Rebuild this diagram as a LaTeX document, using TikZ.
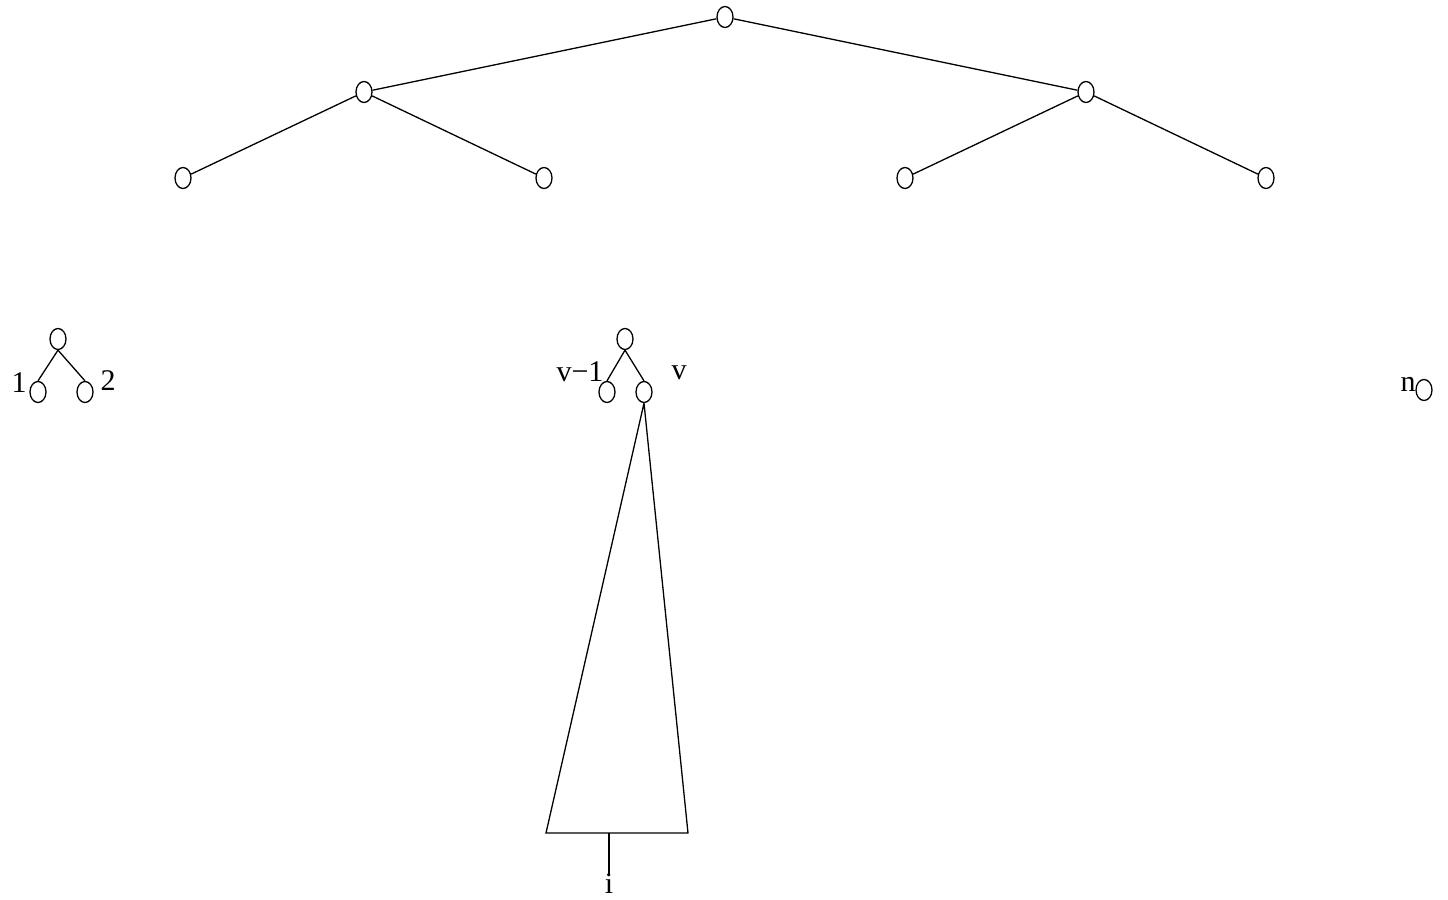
\documentclass[tikz,border=0pt]{standalone}
\usepackage{fontspec}
\setmainfont{Liberation Serif}
\usepackage{tikz}
\usetikzlibrary{positioning}
\usetikzlibrary{calc}
\usetikzlibrary{shapes.geometric}

\begin{document}
\begin{tikzpicture}[
    x=0.5pt,
    y=-0.5pt,
    vert/.style={draw, ellipse, line width=0.65pt, minimum width=8pt, minimum height=10.5pt, inner sep=0pt},
    edge/.style={line width=0.65pt},
    lab/.style={inner sep=0pt, font=\fontsize{15}{17}\selectfont}
]
  \useasboundingbox (0,0) rectangle (1448,900);
  % big tree
  \node[vert] (root) at (725, 17) {};
  \node[vert] (l) at (364, 92) {};
  \node[vert] (r) at (1086, 92) {};
  \node[vert] (ll) at (183, 178) {};
  \node[vert] (lr) at (544, 178) {};
  \node[vert] (rl) at (905, 178) {};
  \node[vert] (rr) at (1266, 178) {};
  \draw[edge] (root) to (l);
  \draw[edge] (root) to (r);
  \draw[edge] (l) to (ll);
  \draw[edge] (l) to (lr);
  \draw[edge] (r) to (rl);
  \draw[edge] (r) to (rr);
  % first small tree
  \node[vert] (a) at (58, 339) {};
  \node[vert] (a1) at (38, 392) {};
  \node[vert] (a2) at (85, 392) {};
  \draw[edge] (a.south) to (a1.north);
  \draw[edge] (a.south) to (a2.north);
  \node[lab] (t1) at (19, 383) {1};
  \node[lab] (t2) at (108, 381) {2};
  % small tree at v
  \node[vert] (b) at (625, 339) {};
  \node[vert] (b1) at (607, 392) {};
  \node[vert] (b2) at (644, 392) {};
  \draw[edge] (b.south) to (b1.north);
  \draw[edge] (b.south) to (b2.north);
  \node[lab] (tv1) at (580, 372) {v−1};
  \node[lab] (tv) at (679, 373) {v};
  % last leaf
  \node[vert] (c) at (1424, 390) {};
  \node[lab] (tn) at (1408, 384) {n};
  % subtree below v
  \coordinate (bl) at (546, 833);
  \coordinate (br) at (688, 833);
  \coordinate (mid) at (609, 833);
  \draw[edge] (b2.south) to (bl) to (br) to (b2.south);
  \node[lab] (ti) at (609, 884) {i};
  \draw[edge] (mid) to (mid |- ti.north);
\end{tikzpicture}
\end{document}
